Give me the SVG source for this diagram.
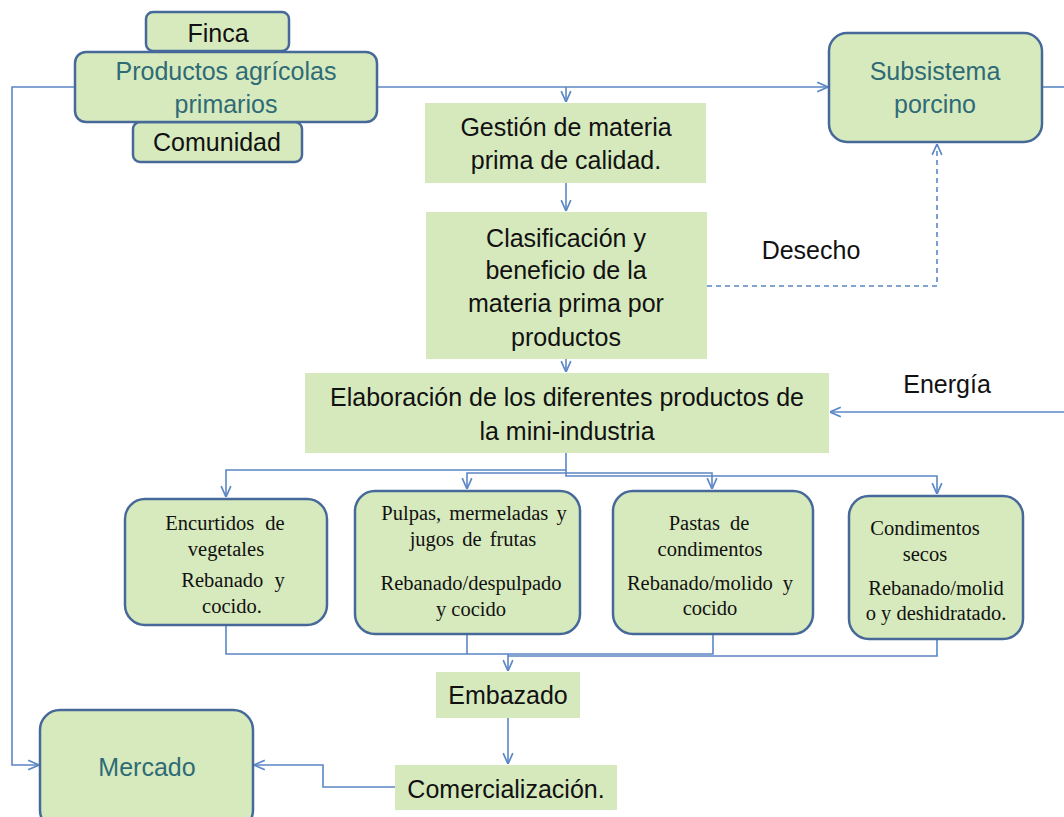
<svg xmlns="http://www.w3.org/2000/svg" width="1064" height="817" viewBox="0 0 1064 817">
<style>
.rn{fill:#d7eabd;stroke:#46699a;stroke-width:2.5}
.sq{fill:#d6e9bd}
.sans{font-family:"Liberation Sans",Arial,sans-serif;font-size:25px;fill:#111;text-anchor:middle}
.teal{fill:#2f6b76}
.ser{font-family:"Liberation Serif","Times New Roman",serif;font-size:20.5px;fill:#111;text-anchor:middle}
.c{fill:none;stroke:#5b87c5;stroke-width:1.6}
.d{stroke-dasharray:5 4}
</style>
<defs>
<marker id="a" viewBox="0 0 10 10" refX="10" refY="5" markerWidth="12" markerHeight="12" markerUnits="userSpaceOnUse" orient="auto">
<path d="M1,1 L10,5 L1,9" fill="none" stroke="#5b87c5" stroke-width="1.4"/>
</marker>
</defs>
<rect width="1064" height="817" fill="#fff"/>
<g id="connectors">
<path class="c" d="M75 87 H12 V765 H39" marker-end="url(#a)"/>
<path class="c" d="M377 87 H828" marker-end="url(#a)"/>
<path class="c" d="M566 87 V102" marker-end="url(#a)"/>
<path class="c" d="M1042 87 H1064"/>
<path class="c" d="M566 183 V211" marker-end="url(#a)"/>
<path class="c d" d="M707 286 H937 V144" marker-end="url(#a)"/>
<path class="c" d="M566 359 V372" marker-end="url(#a)"/>
<path class="c" d="M1064 412 H830" marker-end="url(#a)"/>
<path class="c" d="M566 453 V470 H226 V497" marker-end="url(#a)"/>
<path class="c" d="M566 470 V473 H467 V489" marker-end="url(#a)"/>
<path class="c" d="M566 473 H712 V489" marker-end="url(#a)"/>
<path class="c" d="M566 473 V476 H937 V494" marker-end="url(#a)"/>
<path class="c" d="M226 625 V654 H508"/>
<path class="c" d="M467 634 V654"/>
<path class="c" d="M713 634 V654 H508"/>
<path class="c" d="M937 639 V656 H508"/>
<path class="c" d="M508 654 V671" marker-end="url(#a)"/>
<path class="c" d="M508 718 V764" marker-end="url(#a)"/>
<path class="c" d="M395 787 H323 V765 H254" marker-end="url(#a)"/>
</g>
<g id="finca"><rect class="rn" x="146" y="12" width="143" height="39" rx="7"/><text class="sans" x="218" y="42">Finca</text></g>
<g id="comunidad"><rect class="rn" x="133" y="122" width="169" height="40" rx="7"/><text class="sans" x="217" y="151">Comunidad</text></g>
<g id="productos"><rect class="rn" x="75" y="52" width="302" height="70" rx="11"/><text class="sans teal" x="226" y="80">Productos agrícolas</text><text class="sans teal" x="226" y="113">primarios</text></g>
<g id="subsistema"><rect class="rn" x="829" y="33" width="213" height="109" rx="18"/><text class="sans teal" x="935" y="80">Subsistema</text><text class="sans teal" x="935" y="113">porcino</text></g>
<g id="gestion"><rect class="sq" x="425" y="103" width="281" height="80"/><text class="sans" x="566" y="136">Gestión de materia</text><text class="sans" x="566" y="169">prima de calidad.</text></g>
<g id="clasificacion"><rect class="sq" x="426" y="212" width="281" height="147"/><text class="sans" x="566" y="247">Clasificación y</text><text class="sans" x="566" y="279">beneficio de la</text><text class="sans" x="566" y="312">materia prima por</text><text class="sans" x="566" y="346">productos</text></g>
<g id="desecho"><text class="sans" x="811" y="259">Desecho</text></g>
<g id="elaboracion"><rect class="sq" x="305" y="373" width="524" height="80"/><text class="sans" x="567" y="406">Elaboración de los diferentes productos de</text><text class="sans" x="567" y="440">la mini-industria</text></g>
<g id="energia"><text class="sans" x="947" y="393">Energía</text></g>
<g id="encurtidos"><rect class="rn" x="125" y="499" width="202" height="126" rx="20"/><text class="ser" x="225" y="530" word-spacing="6">Encurtidos de</text><text class="ser" x="226" y="556">vegetales</text><text class="ser" x="233" y="587" word-spacing="6">Rebanado y</text><text class="ser" x="232" y="613">cocido.</text></g>
<g id="pulpas"><rect class="rn" x="355" y="491" width="225" height="143" rx="20"/><text class="ser" x="474" y="520" word-spacing="3">Pulpas, mermeladas y</text><text class="ser" x="473" y="546" word-spacing="3">jugos de frutas</text><text class="ser" x="471" y="590">Rebanado/despulpado</text><text class="ser" x="471" y="616">y cocido</text></g>
<g id="pastas"><rect class="rn" x="613" y="491" width="200" height="143" rx="20"/><text class="ser" x="709" y="530" word-spacing="5">Pastas de</text><text class="ser" x="710" y="556">condimentos</text><text class="ser" x="710" y="590" word-spacing="5">Rebanado/molido y</text><text class="ser" x="710" y="615">cocido</text></g>
<g id="condimentos"><rect class="rn" x="849" y="496" width="174" height="143" rx="20"/><text class="ser" x="925" y="535">Condimentos</text><text class="ser" x="925" y="561">secos</text><text class="ser" x="936" y="595">Rebanado/molid</text><text class="ser" x="936" y="620">o y deshidratado.</text></g>
<g id="embazado"><rect class="sq" x="436" y="672" width="144" height="46"/><text class="sans" x="508" y="704">Embazado</text></g>
<g id="comercializacion"><rect class="sq" x="395" y="765" width="222" height="45"/><text class="sans" x="506" y="798">Comercialización.</text></g>
<g id="mercado"><rect class="rn" x="40" y="710" width="213" height="120" rx="20"/><text class="sans teal" x="147" y="776">Mercado</text></g>
</svg>
